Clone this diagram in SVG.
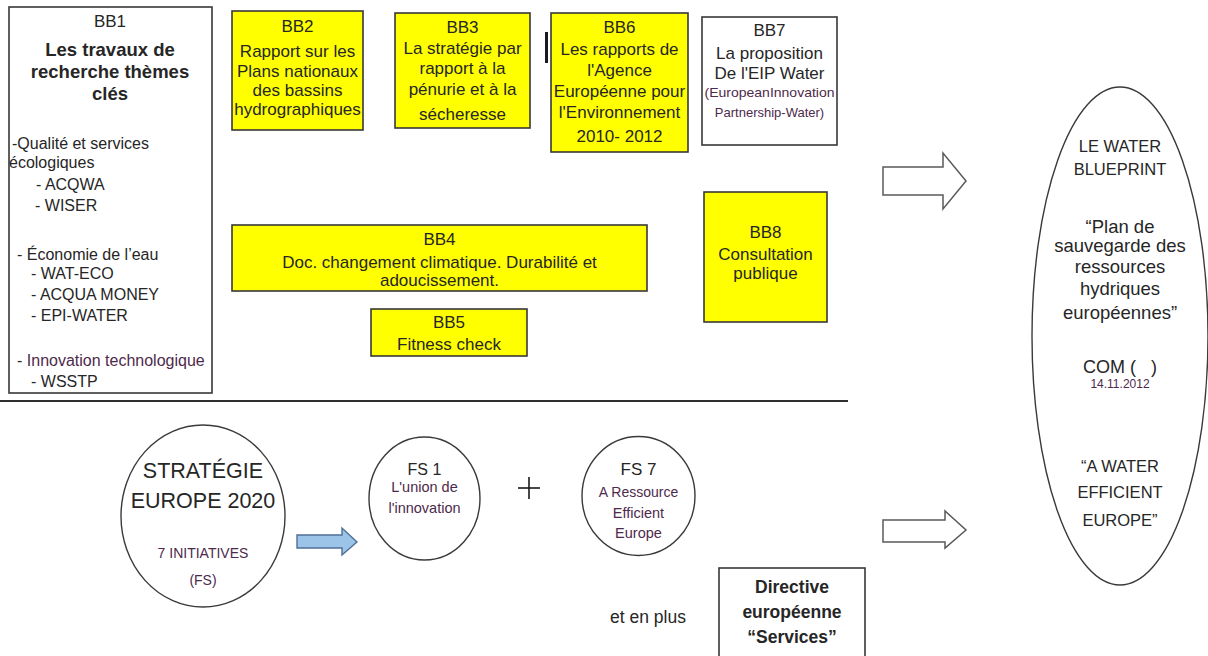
<svg xmlns="http://www.w3.org/2000/svg" width="1208" height="656" viewBox="0 0 1208 656">
  <style>
    text { font-family: "Liberation Sans", Arial, sans-serif; fill: #262626; }
    .c { text-anchor: middle; }
    .b { font-weight: bold; }
    .pre { white-space: pre; }
    .f17 { font-size: 17px; }
    .f16 { font-size: 16px; }
    .f14 { font-size: 14px; }
    .pur { fill: #4e2a4c; }
    .box { stroke: #383838; stroke-width: 1.6; }
    .yel { fill: #ffff00; }
    .wht { fill: #ffffff; }
    .ring { fill: #ffffff; stroke: #3a3a3a; stroke-width: 1.4; }
    .hollow { fill: #ffffff; stroke: #5a5a5a; stroke-width: 1.5; stroke-linejoin: miter; }
    .blue { fill: #9cc3e8; stroke: #4f6f96; stroke-width: 1.4; }
    .cap { font-size: 16.5px; }
    .low { font-size: 18.5px; }
  </style>

  <rect width="1208" height="656" fill="#ffffff"/>

  <!-- BB1: research themes -->
  <g id="bb1">
    <rect class="box wht" x="9" y="7" width="203" height="386"/>
    <text class="c f17" x="110" y="27">BB1</text>
    <text class="c b" font-size="18.5" x="110" y="56">Les travaux de</text>
    <text class="c b" font-size="18.5" x="110" y="78">recherche thèmes</text>
    <text class="c b" font-size="18.5" x="110" y="100">clés</text>
    <g class="f16 pre">
      <text x="12" y="149">-Qualité  et services</text>
      <text x="9" y="168">écologiques</text>
      <text x="36" y="190">- ACQWA</text>
      <text x="35" y="211">- WISER</text>
      <text x="17" y="260">- Économie  de  l’eau</text>
      <text x="31" y="279">- WAT-ECO</text>
      <text x="31" y="300">- ACQUA MONEY</text>
      <text x="31" y="321">- EPI-WATER</text>
      <text x="17" y="366">- <tspan class="pur">Innovation technologique</tspan></text>
      <text x="31" y="387">- WSSTP</text>
    </g>
  </g>

  <!-- BB2 -->
  <g id="bb2" class="f17">
    <rect class="box yel" x="232" y="11" width="131" height="119"/>
    <text class="c" x="297.5" y="32">BB2</text>
    <text class="c" x="297.5" y="57">Rapport sur les</text>
    <text class="c" x="297.5" y="77">Plans nationaux</text>
    <text class="c" x="297.5" y="96">des bassins</text>
    <text class="c" x="297.5" y="115">hydrographiques</text>
  </g>

  <!-- BB3 -->
  <g id="bb3" class="f17">
    <rect class="box yel" x="395" y="13" width="135" height="115"/>
    <text class="c" x="462.5" y="33">BB3</text>
    <text class="c" x="462.5" y="54">La stratégie par</text>
    <text class="c" x="462.5" y="74">rapport à la</text>
    <text class="c" x="462.5" y="95">pénurie et à la</text>
    <text class="c" x="462.5" y="120">sécheresse</text>
  </g>

  <!-- thin bar between BB3 and BB6 -->
  <rect x="545" y="32" width="3" height="31" fill="#1a1a1a"/>

  <!-- BB6 -->
  <g id="bb6" class="f17">
    <rect class="box yel" x="551" y="13" width="137" height="139"/>
    <text class="c" x="619.5" y="33">BB6</text>
    <text class="c" x="619.5" y="55">Les rapports de</text>
    <text class="c" x="619.5" y="76">l'Agence</text>
    <text class="c" x="619.5" y="97">Européenne pour</text>
    <text class="c" x="619.5" y="118">l'Environnement</text>
    <text class="c" x="619.5" y="142">2010- 2012</text>
  </g>

  <!-- BB7 -->
  <g id="bb7" class="f17">
    <rect class="box wht" x="702" y="17" width="135" height="128"/>
    <text class="c" x="769.5" y="36">BB7</text>
    <text class="c" x="769.5" y="59">La proposition</text>
    <text class="c" x="769.5" y="79">De l'EIP Water</text>
    <text class="c pur" font-size="13" x="769.5" y="97" textLength="130" lengthAdjust="spacingAndGlyphs">(EuropeanInnovation</text>
    <text class="c pur" font-size="13" x="769.5" y="117">Partnership-Water)</text>
  </g>

  <!-- BB4 -->
  <g id="bb4" class="f17">
    <rect class="box yel" x="232" y="225" width="415" height="66"/>
    <text class="c" x="439.5" y="245">BB4</text>
    <text class="c" x="439.5" y="268">Doc. changement climatique. Durabilité et</text>
    <text class="c" x="439.5" y="286">adoucissement.</text>
  </g>

  <!-- BB5 -->
  <g id="bb5" class="f17">
    <rect class="box yel" x="371" y="309" width="156" height="47"/>
    <text class="c" x="449" y="328">BB5</text>
    <text class="c" x="449" y="350">Fitness check</text>
  </g>

  <!-- BB8 -->
  <g id="bb8" class="f17">
    <rect class="box yel" x="704" y="192" width="123" height="130"/>
    <text class="c" x="765.5" y="238">BB8</text>
    <text class="c" x="765.5" y="260">Consultation</text>
    <text class="c" x="765.5" y="279">publique</text>
  </g>

  <!-- section divider -->
  <line x1="0" y1="401" x2="848" y2="401" stroke="#2e2e2e" stroke-width="1.8"/>

  <!-- Europe 2020 strategy -->
  <g id="europe2020">
    <ellipse class="ring" cx="203" cy="516" rx="82" ry="91"/>
    <text class="c" font-size="21.5" x="203" y="478">STRATÉGIE</text>
    <text class="c" font-size="21.5" x="203" y="508">EUROPE 2020</text>
    <text class="c pur f14" x="203" y="558">7 INITIATIVES</text>
    <text class="c pur f14" x="203" y="585">(FS)</text>
  </g>

  <!-- FS 1 -->
  <g id="fs1">
    <ellipse class="ring" cx="424.5" cy="498.5" rx="55.5" ry="61.5"/>
    <text class="c f16" x="424.5" y="475">FS 1</text>
    <text class="c pur" font-size="14.5" x="424.5" y="492">L'union de</text>
    <text class="c pur" font-size="14.5" x="424.5" y="513">l'innovation</text>
  </g>

  <!-- plus sign -->
  <g id="plus" stroke="#1a1a1a" stroke-width="1.6">
    <line x1="518" y1="488" x2="540" y2="488"/>
    <line x1="529" y1="477" x2="529" y2="499"/>
  </g>

  <!-- FS 7 -->
  <g id="fs7">
    <ellipse class="ring" cx="638.5" cy="496" rx="56.5" ry="59.5"/>
    <text class="c f17" x="638.5" y="475">FS 7</text>
    <text class="c pur f14" x="638.5" y="497">A Ressource</text>
    <text class="c pur" font-size="14.5" x="638.5" y="518">Efficient</text>
    <text class="c pur" font-size="14.5" x="638.5" y="538">Europe</text>
  </g>

  <text id="et-en-plus" font-size="17.5" x="610" y="623">et en plus</text>

  <!-- Services directive -->
  <g id="directive">
    <rect class="box wht" x="719" y="568" width="146" height="96"/>
    <text class="c b" font-size="17.5" x="792" y="593">Directive</text>
    <text class="c b" font-size="17.5" x="792" y="618">européenne</text>
    <text class="c b" font-size="17.5" x="792" y="643">“Services”</text>
  </g>

  <!-- Water Blueprint -->
  <g id="blueprint">
    <ellipse class="ring" cx="1120" cy="336" rx="88" ry="249"/>
    <text class="c cap" x="1120" y="152">LE WATER</text>
    <text class="c cap" x="1120" y="175">BLUEPRINT</text>
    <text class="c low" x="1120" y="233">“Plan de</text>
    <text class="c low" x="1120" y="252">sauvegarde des</text>
    <text class="c low" x="1120" y="273">ressources</text>
    <text class="c low" x="1120" y="295">hydriques</text>
    <text class="c low" x="1120" y="319">européennes”</text>
    <text class="c pre" font-size="18" x="1120" y="373">COM (   )</text>
    <text class="c pur" font-size="12" x="1120" y="388">14.11.2012</text>
    <text class="c cap" x="1120" y="472">“A WATER</text>
    <text class="c cap" x="1120" y="498">EFFICIENT</text>
    <text class="c cap" x="1120" y="526">EUROPE”</text>
  </g>

  <!-- arrows -->
  <g id="connectors">
    <path class="blue" d="M297,535 H342 V528 L357,542 L342,555 V548 H297 Z"/>
    <path class="hollow" d="M883,167 H943 V153 L966,181 L943,209 V195 H883 Z"/>
    <path class="hollow" d="M883,520 H945 V511 L966,530 L945,548 V542 H883 Z"/>
  </g>
</svg>
